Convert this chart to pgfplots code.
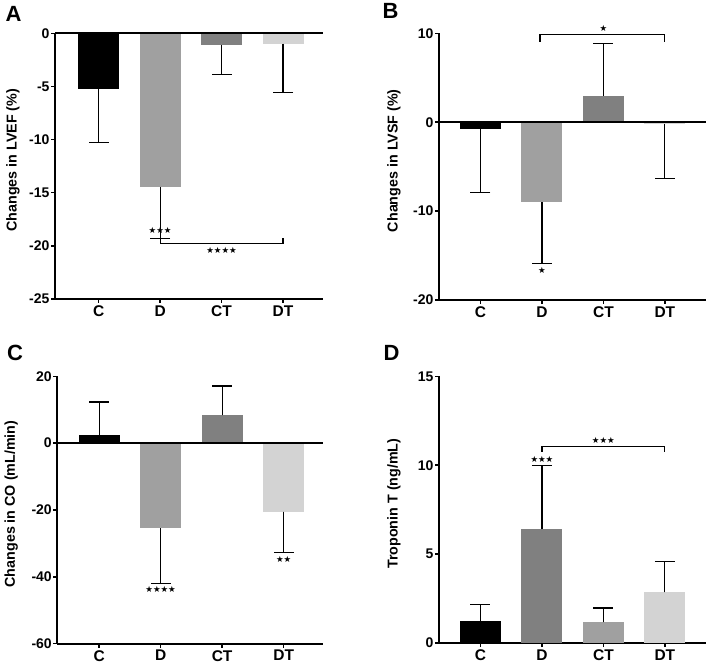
\documentclass[border=0pt]{standalone}
\usepackage{fontspec}
\setmainfont{Liberation Sans}
\newfontfamily\starfont{DejaVu Sans}
\usepackage{pgfplots}
\pgfplotsset{compat=1.18}
\definecolor{gL}{RGB}{160,160,160}
\definecolor{gM}{RGB}{128,128,128}
\definecolor{gXL}{RGB}{211,211,211}
\newcommand\st[1]{{\starfont\fontsize{8.5}{9}\selectfont #1}}
\pgfplotsset{
 panel/.style={
  scale only axis, clip=false,
  axis x line*=bottom, axis y line*=left,
  axis line style={line width=2pt,-},
  xtick={0,1,2,3}, xticklabels={C,D,CT,DT},
  tick align=outside,
  major tick length=4pt,
  tick style={line width=1.5pt, black},
  x tick label style={font=\fontsize{15.5}{16}\selectfont\bfseries, inner sep=0pt, text depth=0pt, anchor=north, yshift=-2.3pt},
  y tick label style={font=\fontsize{14}{15}\selectfont\bfseries, xshift=2pt},
  /pgf/number format/assume math mode=true,
 },
 bar/.style={ybar, bar width=41pt, bar shift=0pt, draw=none, fill=#1,
   error bars/y explicit,
   error bars/error bar style={line width=1.2pt, black},
   error bars/error mark options={mark size=10pt, line width=1.2pt, black, rotate=90}},
 ann/.style={sharp plot, black, line width=1.2pt, mark=none, forget plot},
}
\newcommand\ylab[2]{\node[rotate=90, font=\fontsize{14.3}{16}\selectfont\bfseries] at ([xshift=#1, yshift=6pt]rel axis cs:0,0.5) {#2};}
\begin{document}
\begin{tikzpicture}
\path[use as bounding box] (0pt,0pt) rectangle (708pt,664pt);
\node[font=\fontsize{22}{24}\selectfont\bfseries] at (13.5pt,650.5pt) {A};
\node[font=\fontsize{22}{24}\selectfont\bfseries] at (390.5pt,653pt) {B};
\node[font=\fontsize{22}{24}\selectfont\bfseries] at (15pt,311.5pt) {C};
\node[font=\fontsize{22}{24}\selectfont\bfseries] at (391.5pt,311.5pt) {D};
% ---------------- Panel A
\begin{axis}[panel, at={(55pt,365pt)}, anchor=south west, width=268pt, height=265.7pt,
  xmin=-0.71, xmax=3.65, ymin=-25, ymax=0, ytick={-25,-20,-15,-10,-5,0}]
\addplot[bar=black, error bars/y dir=minus] coordinates {(0,-5.25) -= (0,5.05)};
\addplot[bar=gL, error bars/y dir=minus] coordinates {(1,-14.45) -= (0,4.85)};
\addplot[bar=gM, error bars/y dir=minus] coordinates {(2,-1.1) -= (0,2.8)};
\addplot[bar=gXL, error bars/y dir=minus] coordinates {(3,-1.0) -= (0,4.6)};
\addplot[ann, line width=2pt] coordinates {(-0.71,0) (3.65,0)};
\addplot[ann] coordinates {(1,-19.3) (1,-19.76) (3,-19.76) (3,-19.3)};
\node at (axis cs:1,-18.55) {\st{★★★}};
\node at (axis cs:2,-20.4) {\st{★★★★}};
\ylab{-42pt}{Changes in LVEF (\%)}
\end{axis}
% ---------------- Panel B
\begin{axis}[panel, at={(439pt,364pt)}, anchor=south west, width=267pt, height=266.7pt,
  xmin=-0.675, xmax=3.67, ymin=-20, ymax=10, ytick={-20,-10,0,10}]
\addplot[bar=black, error bars/y dir=minus] coordinates {(0,-0.8) -= (0,7.1)};
\addplot[bar=gL, error bars/y dir=minus] coordinates {(1,-9.0) -= (0,6.9)};
\addplot[bar=gM, error bars/y dir=plus] coordinates {(2,3.0) += (0,5.85)};
\addplot[bar=gXL, error bars/y dir=minus] coordinates {(3,-0.2) -= (0,6.1)};
\addplot[ann, line width=2pt] coordinates {(-0.675,0) (3.67,0)};
\addplot[ann] coordinates {(0.97,9.05) (0.97,9.9) (3.0,9.9) (3.0,9.05)};
\node at (axis cs:2,10.6) {\st{★}};
\node at (axis cs:1,-16.7) {\st{★}};
\ylab{-45pt}{Changes in LVSF (\%)}
\end{axis}
% ---------------- Panel C
\begin{axis}[panel, at={(57.3pt,20.3pt)}, anchor=south west, width=265.7pt, height=267.4pt,
  xmin=-0.68, xmax=3.64, ymin=-60, ymax=20, ytick={-60,-40,-20,0,20}]
\addplot[bar=black, error bars/y dir=plus] coordinates {(0,2.3) += (0,10.0)};
\addplot[bar=gL, error bars/y dir=minus] coordinates {(1,-25.4) -= (0,16.5)};
\addplot[bar=gM, error bars/y dir=plus] coordinates {(2,8.3) += (0,8.8)};
\addplot[bar=gXL, error bars/y dir=minus] coordinates {(3,-20.5) -= (0,12.3)};
\addplot[ann, line width=2pt] coordinates {(-0.68,0) (3.64,0)};
\node at (axis cs:1,-43.9) {\st{★★★★}};
\node at (axis cs:3,-34.8) {\st{★★}};
\ylab{-46pt}{Changes in CO (mL/min)}
\end{axis}
% ---------------- Panel D
\begin{axis}[panel, at={(439pt,21pt)}, anchor=south west, width=267pt, height=266.7pt,
  xmin=-0.675, xmax=3.67, ymin=0, ymax=15, ytick={0,5,10,15}]
\addplot[bar=black, error bars/y dir=plus] coordinates {(0,1.22) += (0,0.94)};
\addplot[bar=gM, error bars/y dir=plus] coordinates {(1,6.4) += (0,3.6)};
\addplot[bar=gL, error bars/y dir=plus] coordinates {(2,1.16) += (0,0.81)};
\addplot[bar=gXL, error bars/y dir=plus] coordinates {(3,2.85) += (0,1.73)};
\addplot[ann] coordinates {(1,10.75) (1,11.03) (3,11.03) (3,10.75)};
\node at (axis cs:1,10.32) {\st{★★★}};
\node at (axis cs:2,11.4) {\st{★★★}};
\ylab{-45pt}{Troponin T (ng/mL)}
\end{axis}
\end{tikzpicture}
\end{document}
